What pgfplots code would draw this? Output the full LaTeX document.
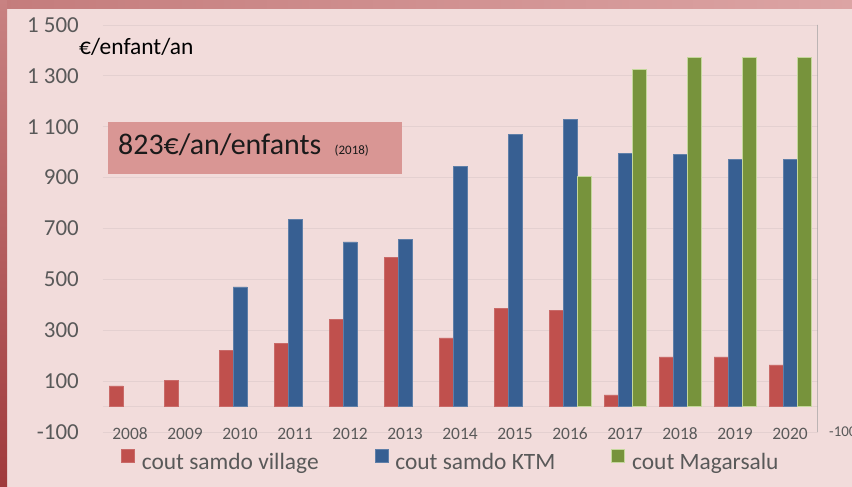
\documentclass[border=0pt]{standalone}
\usepackage{pgfplots}
\pgfplotsset{compat=1.18}
\usepackage{fontspec}
\setmainfont{Carlito}

\definecolor{bgpink}{HTML}{F2DCDB}
\definecolor{gridc}{HTML}{E4D0D0}
\definecolor{txtgray}{HTML}{595959}
\definecolor{cred}{HTML}{C0504D}
\definecolor{cblue}{HTML}{375F92}
\definecolor{cgreen}{HTML}{77933C}
\definecolor{boxc}{HTML}{D99694}

\pgfplotsset{
  sqleg/.style={legend image code/.code={\path[##1] (0bp,0bp) rectangle (13bp,13bp);}},
}

\begin{document}
\begin{tikzpicture}[x=1bp,y=1bp]
\useasboundingbox (0,0) rectangle (852,487);
\clip (0,0) rectangle (852,487);
\fill[bgpink] (0,0) rectangle (852,487);
\shade[left color={rgb,255:red,196;green,124;blue,124}, right color={rgb,255:red,220;green,164;blue,164}] (0,478) rectangle (852,487);
\shade[top color={rgb,255:red,200;green,130;blue,130}, bottom color={rgb,255:red,160;green,58;blue,60}] (0,0) rectangle (7,487);

\begin{axis}[
  at={(102.5bp,55bp)}, anchor=south west,
  scale only axis,
  width=715bp, height=407bp,
  ybar=0pt, bar width=14bp,
  xmin=-0.5, xmax=12.5,
  ymin=-100, ymax=1500,
  xtick={0,1,...,12},
  xticklabels={2008,2009,2010,2011,2012,2013,2014,2015,2016,2017,2018,2019,2020},
  ytick={-100,100,300,500,700,900,1100,1300,1500},
  yticklabels={-100,100,300,500,700,900,{1 100},{1 300},{1 500}},
  extra y ticks={0},
  extra y tick labels={},
  extra y tick style={grid=major},
  ymajorgrids,
  major grid style={gridc, line width=0.9bp},
  axis line style={draw=none},
  tick style={draw=none},
  xticklabel style={font=\fontsize{17.5}{17.5}\selectfont, text=txtgray, anchor=base, inner sep=0pt, yshift=-3.5bp},
  yticklabel style={font=\fontsize{23}{23}\selectfont, text=txtgray, anchor=east, inner sep=0pt, xshift=-23.5bp},
  legend columns=3,
  legend style={at={(0.0259,-0.069)}, anchor=west, draw=none, fill=none,
    inner sep=0pt, column sep=0pt,
    font=\fontsize{23.5}{23.5}\selectfont, text=txtgray,
    nodes={inner sep=0pt},
    /tikz/every odd column/.append style={column sep=7bp},
    /tikz/every even column/.append style={column sep=56bp}},
  legend cell align=left,
]
\addplot[sqleg, fill=cred, draw=cred!85!white, line width=0.6bp] coordinates {
  (0,81) (1,104) (2,222) (3,249) (4,343) (5,585) (6,270)
  (7,385) (8,378) (9,46) (10,195) (11,195) (12,164)
};
\addplot[sqleg, fill=cblue, draw=cblue!80!white, line width=0.6bp] coordinates {
  (2,470) (3,737) (4,647) (5,658) (6,945) (7,1071)
  (8,1130) (9,994) (10,991) (11,973) (12,973)
};
\addplot[sqleg, fill=cgreen, draw={rgb,255:red,196;green,215;blue,155}, line width=0.8bp] coordinates {
  (8,906) (9,1325) (10,1374) (11,1374) (12,1374)
};
\legend{cout samdo village, cout samdo KTM, cout Magarsalu}
\draw[color={rgb,255:red,160;green,160;blue,160}, line width=1bp]
  (rel axis cs:1,1) -- (rel axis cs:1,0) -- ++(5bp,0);
\end{axis}

\node[anchor=west, inner sep=0pt, text=txtgray, font=\fontsize{15}{15}\selectfont] at (829,55) {-100};
\node[anchor=base west, inner sep=0pt, font=\fontsize{23.5}{23.5}\selectfont] at (79,432) {€/enfant/an};
\fill[boxc] (108,313) rectangle (402,365);
\node[anchor=base west, inner sep=0pt, text={rgb,255:red,26;green,26;blue,26}] at (118,332)
  {\fontsize{30}{30}\selectfont 823€/an/enfants\ \ {\fontsize{13}{13}\selectfont (2018)}};
\end{tikzpicture}
\end{document}
